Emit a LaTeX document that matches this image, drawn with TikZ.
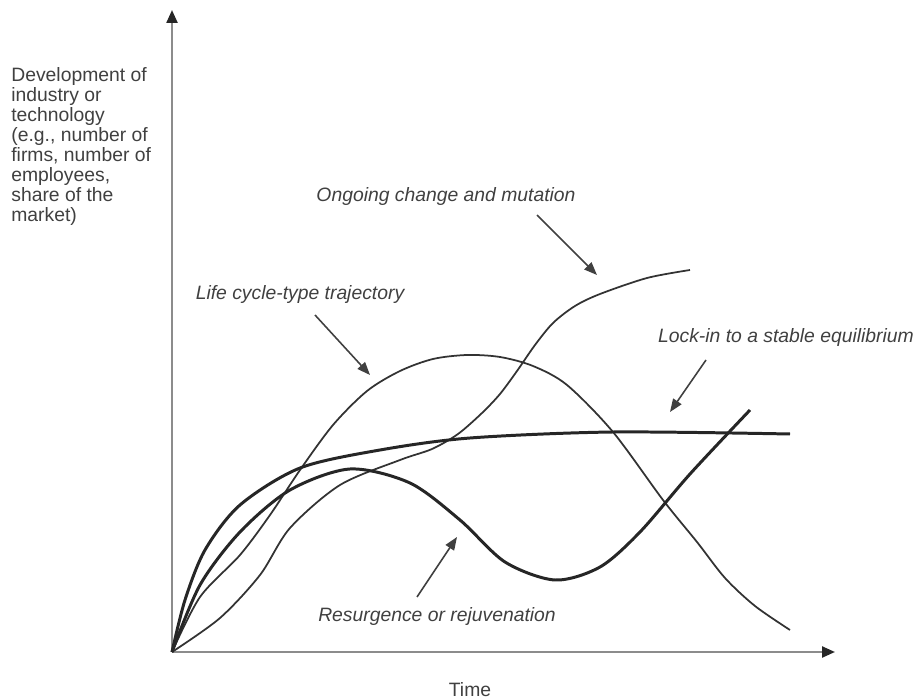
\documentclass[tikz,border=0pt]{standalone}
\usepackage{fontspec}
\setmainfont{Liberation Sans}
\usetikzlibrary{arrows.meta}

\tikzstyle{curve}=[black!80,line width=1pt]
\tikzstyle{heavy}=[black!85,line width=1.7pt]
\tikzstyle{pointer}=[black!75,line width=0.9pt,-{Triangle[length=2.6mm,width=2mm]}]
\tikzstyle{axis}=[black!45,line width=1.3pt,-{Triangle[length=2.6mm,width=2.2mm,color=black!85]}]
\tikzstyle{caption}=[font=\fontsize{11}{11.4}\selectfont\itshape,text=black!75,inner sep=0pt]
\tikzstyle{plain}=[font=\fontsize{11}{11.4}\selectfont,text=black!75,inner sep=0pt]

\begin{document}
\begin{tikzpicture}[x=0.2mm,y=-0.2mm]
    \useasboundingbox (0,0) rectangle (922,700);

    % axes
    \coordinate (o) at (172,652);
    \coordinate (ytop) at (172,10);
    \coordinate (xend) at (835,652);
    \draw[axis] (o) -- (ytop);
    \draw[axis] (o) -- (xend);

    % the four trajectories
    \draw[curve] plot[smooth] coordinates {(172,652) (200,597) (240,555) (270,515)
        (300,470) (333,425) (367,391) (400,371) (433,359) (467,355) (500,357)
        (533,366) (567,385) (613,432) (663,500) (697,542) (725,578) (755,606) (790,630)};
    \draw[curve] plot[smooth] coordinates {(172,652) (220,618) (260,575) (290,528)
        (340,485) (400,460) (432,449) (458,434) (482,413) (500,394) (517,371)
        (535,345) (553,323) (575,306) (600,294) (647,278) (690,270)};
    \draw[heavy] plot[smooth] coordinates {(172,652) (185,600) (205,550) (240,505)
        (300,468) (380,450) (470,438) (613,432) (790,434)};
    \draw[heavy] plot[smooth] coordinates {(172,652) (200,585) (240,532) (290,490)
        (350,469) (410,483) (460,520) (505,562) (555,580) (600,567) (640,532)
        (690,474) (750,410)};

    % labels
    \node (ylabel)[plain,anchor=north west,align=left] at (11,67) {Development of\\industry or\\technology\\(e.g., number of\\firms, number of\\employees,\\share of the\\market)};
    \node (time)[plain] at (470,690) {Time};
    \node (ongoing)[caption] at (446,197) {Ongoing change and mutation};
    \node (lifecycle)[caption] at (300,295) {Life cycle-type trajectory};
    \node (lockin)[caption] at (786,338) {Lock-in to a stable equilibrium};
    \node (resurgence)[caption] at (437,617) {Resurgence or rejuvenation};

    % pointers
    \coordinate (ongoingtail) at (537,215);
    \coordinate (ongoingtip) at (597,275);
    \coordinate (lifecycletail) at (315,315);
    \coordinate (lifecycletip) at (370,375);
    \coordinate (lockintail) at (706,360);
    \coordinate (lockintip) at (670,412);
    \coordinate (resurgencetail) at (417,597);
    \coordinate (resurgencetip) at (457,537);
    \draw[pointer] (ongoingtail) -- (ongoingtip);
    \draw[pointer] (lifecycletail) -- (lifecycletip);
    \draw[pointer] (lockintail) -- (lockintip);
    \draw[pointer] (resurgencetail) -- (resurgencetip);
\end{tikzpicture}
\end{document}
